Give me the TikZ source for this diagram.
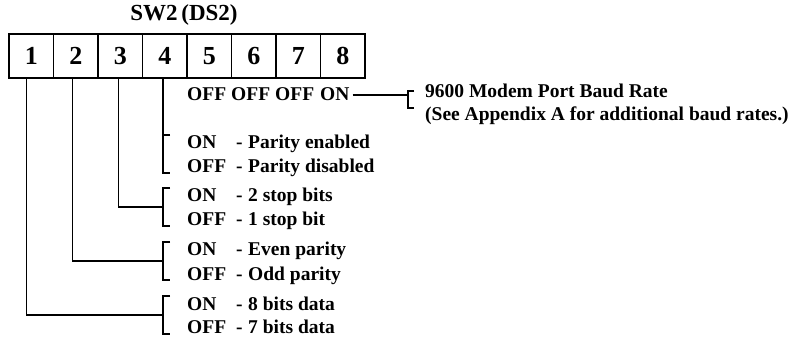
\documentclass[tikz,border=0pt]{standalone}
\usepackage{fontspec}
\setmainfont{Liberation Serif}
\usetikzlibrary{calc,positioning}

\tikzset{
  cell/.style={draw, line width=1.5pt, minimum width=44.5pt, minimum height=44pt,
    inner sep=0pt, font=\bfseries\fontsize{26}{28}\selectfont},
  lbl/.style={anchor=base west, inner sep=0pt, font=\bfseries\fontsize{19.5}{22}\selectfont},
  wire/.style={line width=1.4pt},
}

\begin{document}
\begin{tikzpicture}[x=1pt,y=-1pt]
  \useasboundingbox (0,0) rectangle (809,339);
  % the eight switches
  \foreach \i in {1,...,8}
    \node[cell] (sw\i) at ({9+44.5*(\i-0.5)},56) {\i};
  \node[font=\bfseries\fontsize{23}{25}\selectfont] (title) at (184,15) {SW2\,(DS2)};

  % switches 5-8: baud rate
  \node[lbl] (set5) at (187,101) {OFF};
  \node[lbl] (set6) at (231,101) {OFF};
  \node[lbl] (set7) at (275,101) {OFF};
  \node[lbl] (set8) at (320,101) {ON};
  \coordinate (baud) at (408,95);
  \draw[wire] ([xshift=3pt]set8.east |- baud) -- (baud);
  \draw[wire] ($(baud)+(6,-4)$) -- ++(-6,0) -- ++(0,17) -- ++(6,0);
  \node[lbl] (baudtxt) at (425,98) {9600 Modem Port Baud Rate};
  \node[lbl] (baudnote) at (425,121) {(See Appendix A for additional baud rates.)};

  % switches 1-4: ON/OFF pairs with their brackets
  \foreach \n/\y/\a/\b in {4/149/Parity enabled/Parity disabled,
                           3/202/2 stop bits/1 stop bit,
                           2/256/Even parity/Odd parity,
                           1/310/8 bits data/7 bits data}{
    \node[lbl] (on\n) at (187,\y) {ON};
    \node[lbl] (ondash\n) at (236,\y) {-};
    \node[lbl] (ontxt\n) at (248,\y) {\a};
    \node[lbl] (off\n) at (187,\y+24) {OFF};
    \node[lbl] (offdash\n) at (236,\y+24) {-};
    \node[lbl] (offtxt\n) at (248,\y+24) {\b};
    \coordinate (top\n) at (163,\y-14);
    \coordinate (bot\n) at (163,\y+24);
    \coordinate (mid\n) at ($(top\n)!0.5!(bot\n)$);
    \draw[wire] ($(top\n)+(7,0)$) -- (top\n) -- (bot\n) -- ++(7,0);
  }

  % leads from the switches down to the brackets
  \draw[wire] (sw4.south -| top4) -- (top4);
  \draw[wire] ([xshift=-2pt]sw3.south) |- (mid3);
  \draw[wire] ([xshift=-3pt]sw2.south) |- (mid2);
  \draw[wire] ([xshift=-5pt]sw1.south) |- (mid1);
\end{tikzpicture}
\end{document}
